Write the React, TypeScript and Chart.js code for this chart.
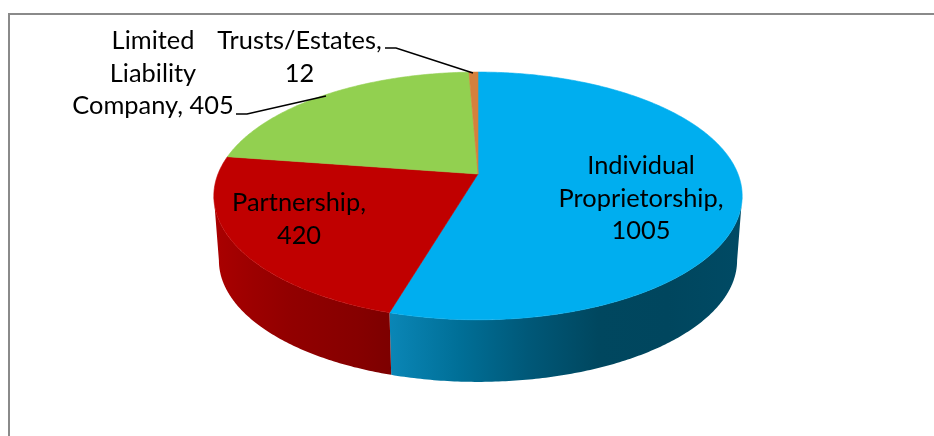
import React, { useEffect, useRef } from "react";
import { Chart, registerables } from "chart.js";

Chart.register(...registerables);

const categories = ["Individual Proprietorship", "Partnership", "Limited Liability Company", "Trusts/Estates"];
const values = [1005, 420, 405, 12];
const topColors = ["#00aeef", "#c00000", "#92d050", "#d5803c"];
const labelLines = [
  ["Individual", "Proprietorship,", "1005"],
  ["Partnership,", "420"],
  ["Limited", "Liability", "Company, 405"],
  ["Trusts/Estates,", "12"],
];

// Drawing geometry (not data)
const CX = 478;
const K = 0.177;
const TOP = { cy: 174, rx: 260, ry: 120 };
const BOTTOM = { cy: 239, rx: 255, ry: 117.6 };
const labelAnchors = [
  { x: 641, y: 174 },
  { x: 299, y: 211 },
  { x: 153, y: 49 },
  { x: 299.5, y: 49 },
];
const leaders = [
  null,
  null,
  [[236, 114], [247, 114], [326, 96]],
  [[385, 48], [396, 48], [473, 73]],
];
const sideStops: (string[] | null)[] = [
  ["#0a86b6", "#006f97", "#005878", "#00475f", "#00465e", "#004a64"],
  ["#a80000", "#9c0000", "#920000", "#8c0000", "#860000", "#7d0000"],
  null,
  null,
];
const sideRanges = [[390, 737], [219, 391]];
const FRONT_START = Math.asin(K);
const FRONT_END = Math.PI - Math.asin(K);

function project(a: number, g: { cy: number; rx: number; ry: number }) {
  // a: Chart.js arc angle (canvas convention, -PI/2 at the top)
  const u = Math.cos(a);
  const v = Math.sin(a);
  const w = 1 - K * v;
  return [CX + (u * g.rx) / w, g.cy + (v * g.ry) / w];
}

function tracePerspectiveArc(ctx: CanvasRenderingContext2D, a0: number, a1: number, g: typeof TOP, move: boolean) {
  const n = Math.max(4, Math.ceil(Math.abs(a1 - a0) * 90));
  for (let i = 0; i <= n; i++) {
    const p = project(a0 + ((a1 - a0) * i) / n, g);
    if (i === 0 && move) ctx.moveTo(p[0], p[1]);
    else ctx.lineTo(p[0], p[1]);
  }
}

const perspectivePie = {
  id: "perspectivePie",
  beforeDatasetsDraw(chart: any) {
    const ctx: CanvasRenderingContext2D = chart.ctx;
    const arcs = chart.getDatasetMeta(0).data;
    ctx.save();
    // frame
    ctx.strokeStyle = "#8a8a8a";
    ctx.lineWidth = 2;
    ctx.beginPath();
    ctx.moveTo(9, 436);
    ctx.lineTo(9, 14);
    ctx.lineTo(934, 14);
    ctx.stroke();

    // sides: only the part of each slice facing the viewer
    arcs.forEach((arc: any, i: number) => {
      const stops = sideStops[i];
      if (!stops) return;
      const { startAngle, endAngle } = arc.getProps(["startAngle", "endAngle"], true);
      const a0 = Math.max(startAngle, FRONT_START);
      const a1 = Math.min(endAngle, FRONT_END);
      if (a1 <= a0) return;
      const grad = ctx.createLinearGradient(sideRanges[i][0], 0, sideRanges[i][1], 0);
      stops.forEach((c, j) => grad.addColorStop(j / (stops.length - 1), c));
      ctx.fillStyle = grad;
      ctx.beginPath();
      tracePerspectiveArc(ctx, a0, a1, TOP, true);
      tracePerspectiveArc(ctx, a1, a0, BOTTOM, false);
      ctx.closePath();
      ctx.fill();
    });

    // top faces
    arcs.forEach((arc: any, i: number) => {
      const { startAngle, endAngle } = arc.getProps(["startAngle", "endAngle"], true);
      ctx.fillStyle = topColors[i];
      ctx.strokeStyle = topColors[i];
      ctx.lineWidth = 0.6;
      ctx.beginPath();
      ctx.moveTo(CX, TOP.cy);
      tracePerspectiveArc(ctx, startAngle, endAngle, TOP, false);
      ctx.closePath();
      ctx.fill();
      ctx.stroke();
    });

    // leaders
    ctx.strokeStyle = "#000000";
    ctx.lineWidth = 1.5;
    leaders.forEach((pts) => {
      if (!pts) return;
      ctx.beginPath();
      pts.forEach((p, j) => (j ? ctx.lineTo(p[0], p[1]) : ctx.moveTo(p[0], p[1])));
      ctx.stroke();
    });

    // labels
    ctx.fillStyle = "#000000";
    ctx.font = '25.4px Lato, "Open Sans", sans-serif';
    ctx.textAlign = "center";
    ctx.textBaseline = "alphabetic";
    labelLines.forEach((lines, i) => {
      lines.forEach((t, j) => ctx.fillText(t, labelAnchors[i].x, labelAnchors[i].y + j * 32.7));
    });
    ctx.restore();
    return false;
  },
};

export default function App() {
  const ref = useRef<HTMLCanvasElement>(null);
  useEffect(() => {
    const chart = new Chart(ref.current!, {
      type: "pie",
      data: {
        labels: categories,
        datasets: [{ data: values, backgroundColor: topColors, borderWidth: 0 }],
      },
      options: {
        animation: false,
        responsive: false,
        plugins: { legend: { display: false }, tooltip: { enabled: false } },
      },
      plugins: [perspectivePie],
    } as any);
    return () => chart.destroy();
  }, []);
  return (
    <canvas
      ref={ref}
      width={934}
      height={436}
      style={{ position: "absolute", left: 0, top: 0, width: 934, height: 436, background: "#fff" }}
    />
  );
}
